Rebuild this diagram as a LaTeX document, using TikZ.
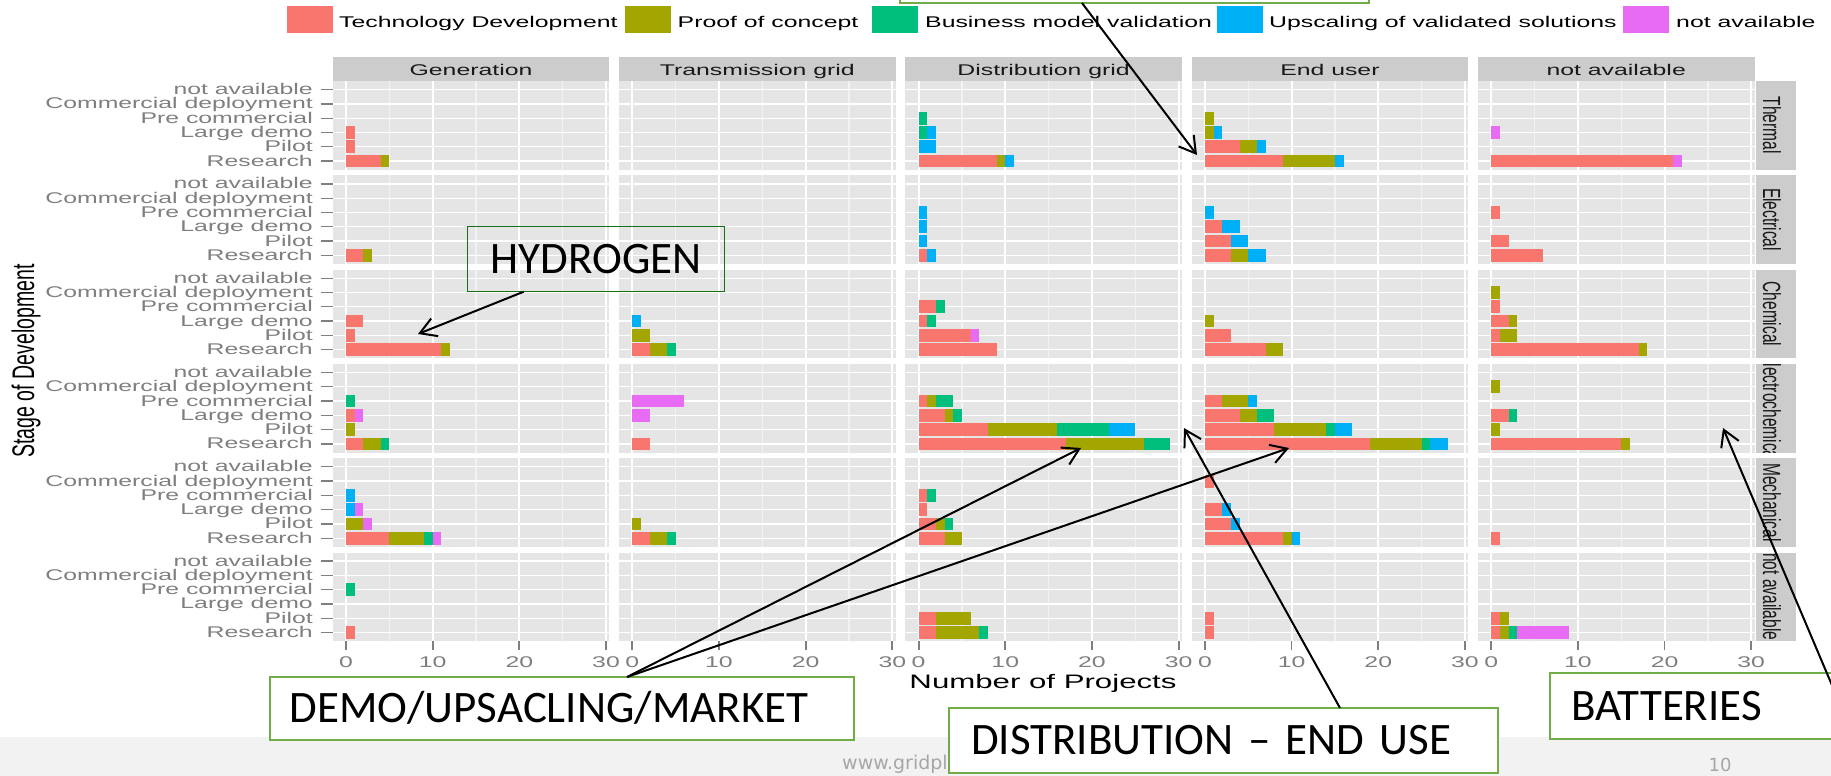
\documentclass[tikz,border=0pt]{standalone}
\usepackage{fontspec}
\usepackage{graphicx}
\setmainfont{Liberation Sans}
\newfontfamily\callfont{Carlito}
\newfontfamily\footfont{DejaVu Sans}
\usetikzlibrary{arrows.meta}
\definecolor{cTD}{HTML}{F8766D}
\definecolor{cPC}{HTML}{A3A500}
\definecolor{cBM}{HTML}{00BF7D}
\definecolor{cUP}{HTML}{00B0F6}
\definecolor{cNA}{HTML}{E76BF3}
\definecolor{panelbg}{HTML}{E5E5E5}
\definecolor{minorgrid}{HTML}{F2F2F2}
\definecolor{stripbg}{HTML}{CCCCCC}
\definecolor{axisgrey}{HTML}{7F7F7F}
\definecolor{lightgreen}{HTML}{70AD47}
\definecolor{darkgreen}{HTML}{1A6E1A}
\definecolor{footband}{HTML}{F2F2F2}
\definecolor{foottext}{HTML}{A6A6A6}
\newcommand\chx[1]{\scalebox{1.6}[1]{#1}}
\newcommand\chy[1]{\scalebox{1}[1.6]{#1}}
\newcommand\stackbar[8]{%
  \pgfmathsetmacro\sbx{332.7+286.3*#1+13.3}%
  \pgfmathsetmacro\sby{81+94.3*#2+88.6-(#3-0.4)*14.29}%
  \def\scum{0}%
  \barseg{#4}{cTD}\barseg{#5}{cPC}\barseg{#6}{cBM}\barseg{#7}{cUP}\barseg{#8}{cNA}}
\newcommand\barseg[2]{%
  \ifnum#1>0\relax
    \pgfmathsetmacro\snew{\scum+#1}%
    \fill[#2] (\sbx+\scum*8.667,\sby-6.43) rectangle (\sbx+\snew*8.667,\sby+6.43);%
    \let\scum\snew
  \fi}
\tikzset{
  chartfont/.style={font=\fontsize{15.5}{18}\selectfont},
  titlefont/.style={font=\fontsize{19.5}{22}\selectfont},
  callout/.style={draw=lightgreen, line width=2.5pt, fill=white, outer sep=0pt,
    font=\callfont\fontsize{45}{50}\selectfont, text height=28.4pt, text depth=0pt},
  callarrow/.style={draw=black, line width=2pt, -{Straight Barb[length=16pt,width=19pt]}},
}
\begin{document}
\begin{tikzpicture}[x=1pt,y=-1pt]
\useasboundingbox (0,0) rectangle (1831,776);
\clip (0,0) rectangle (1831,776);
\fill[white] (0,0) rectangle (1831,776);
\fill[footband] (0,737) rectangle (1831,776);

% legend
\foreach \kx/\tx/\col/\lab [count=\i] in {287/339/cTD/Technology Development,625/677.5/cPC/Proof of concept,872.3/925/cBM/Business model validation,1216.7/1269/cUP/Upscaling of validated solutions,1623.3/1676/cNA/not available}{
  \fill[\col] (\kx,6) rectangle ++(46,27);
  \node[chartfont, anchor=base west, inner sep=0pt, name=leg\i] at (\tx,27.3) {\chx{\lab}};
}

% column strips
\foreach \cn [count=\c from 0] in {Generation,Transmission grid,Distribution grid,End user,not available}{
  \pgfmathsetmacro\cl{332.7+286.3*\c}
  \fill[stripbg] (\cl,57.3) rectangle ++(276.6,23.7);
  \node[chartfont, text=black!90, anchor=base, inner sep=0pt, name=colstrip\c] at (\cl+138.3,76) {\chx{\cn}};
}

% row strips
\foreach \rn [count=\r from 0] in {Thermal,Electrical,Chemical,Electrochemical,Mechanical,not available}{
  \pgfmathsetmacro\rt{81+94.3*\r}
  \fill[stripbg] (1756,\rt) rectangle ++(40,88.6);
  \begin{scope}
    \clip (1756,\rt) rectangle ++(40,88.6);
    \node[chartfont, text=black!90, rotate=-90, anchor=base, inner sep=0pt, name=rowstrip\r] at (1763,\rt+44.3) {\chy{\rn}};
  \end{scope}
}

% panels and grids
\foreach \c in {0,...,4}{
  \foreach \r in {0,...,5}{
    \pgfmathsetmacro\pleft{332.7+286.3*\c}
    \pgfmathsetmacro\ptop{81+94.3*\r}
    \fill[panelbg] (\pleft,\ptop) rectangle ++(276.6,88.6);
    \foreach \v in {5,15,25}
      \draw[minorgrid, line width=1.4pt] (\pleft+13.3+\v*8.667,\ptop) -- ++(0,88.6);
    \foreach \j in {1,...,6}
      \draw[white, line width=1.3pt] (\pleft,\ptop+88.6-\j*14.29+0.4*14.29) -- ++(276.6,0);
    \foreach \v in {0,10,20,30}
      \draw[white, line width=2pt] (\pleft+13.3+\v*8.667,\ptop) -- ++(0,88.6);
  }
}

% bars: col, row, category (1 Research ... 6 not available), TD, PoC, BMV, Up, NA
\stackbar{0}{0}{3}{1}{0}{0}{0}{0}
\stackbar{0}{0}{2}{1}{0}{0}{0}{0}
\stackbar{0}{0}{1}{4}{1}{0}{0}{0}
\stackbar{2}{0}{4}{0}{0}{1}{0}{0}
\stackbar{2}{0}{3}{0}{0}{1}{1}{0}
\stackbar{2}{0}{2}{0}{0}{0}{2}{0}
\stackbar{2}{0}{1}{9}{1}{0}{1}{0}
\stackbar{3}{0}{4}{0}{1}{0}{0}{0}
\stackbar{3}{0}{3}{0}{1}{0}{1}{0}
\stackbar{3}{0}{2}{4}{2}{0}{1}{0}
\stackbar{3}{0}{1}{9}{6}{0}{1}{0}
\stackbar{4}{0}{3}{0}{0}{0}{0}{1}
\stackbar{4}{0}{1}{21}{0}{0}{0}{1}
\stackbar{0}{1}{1}{2}{1}{0}{0}{0}
\stackbar{2}{1}{4}{0}{0}{0}{1}{0}
\stackbar{2}{1}{3}{0}{0}{0}{1}{0}
\stackbar{2}{1}{2}{0}{0}{0}{1}{0}
\stackbar{2}{1}{1}{1}{0}{0}{1}{0}
\stackbar{3}{1}{4}{0}{0}{0}{1}{0}
\stackbar{3}{1}{3}{2}{0}{0}{2}{0}
\stackbar{3}{1}{2}{3}{0}{0}{2}{0}
\stackbar{3}{1}{1}{3}{2}{0}{2}{0}
\stackbar{4}{1}{4}{1}{0}{0}{0}{0}
\stackbar{4}{1}{2}{2}{0}{0}{0}{0}
\stackbar{4}{1}{1}{6}{0}{0}{0}{0}
\stackbar{0}{2}{3}{2}{0}{0}{0}{0}
\stackbar{0}{2}{2}{1}{0}{0}{0}{0}
\stackbar{0}{2}{1}{11}{1}{0}{0}{0}
\stackbar{1}{2}{3}{0}{0}{0}{1}{0}
\stackbar{1}{2}{2}{0}{2}{0}{0}{0}
\stackbar{1}{2}{1}{2}{2}{1}{0}{0}
\stackbar{2}{2}{4}{2}{0}{1}{0}{0}
\stackbar{2}{2}{3}{1}{0}{1}{0}{0}
\stackbar{2}{2}{2}{6}{0}{0}{0}{1}
\stackbar{2}{2}{1}{9}{0}{0}{0}{0}
\stackbar{3}{2}{3}{0}{1}{0}{0}{0}
\stackbar{3}{2}{2}{3}{0}{0}{0}{0}
\stackbar{3}{2}{1}{7}{2}{0}{0}{0}
\stackbar{4}{2}{5}{0}{1}{0}{0}{0}
\stackbar{4}{2}{4}{1}{0}{0}{0}{0}
\stackbar{4}{2}{3}{2}{1}{0}{0}{0}
\stackbar{4}{2}{2}{1}{2}{0}{0}{0}
\stackbar{4}{2}{1}{17}{1}{0}{0}{0}
\stackbar{0}{3}{4}{0}{0}{1}{0}{0}
\stackbar{0}{3}{3}{1}{0}{0}{0}{1}
\stackbar{0}{3}{2}{0}{1}{0}{0}{0}
\stackbar{0}{3}{1}{2}{2}{1}{0}{0}
\stackbar{1}{3}{4}{0}{0}{0}{0}{6}
\stackbar{1}{3}{3}{0}{0}{0}{0}{2}
\stackbar{1}{3}{1}{2}{0}{0}{0}{0}
\stackbar{2}{3}{4}{1}{1}{2}{0}{0}
\stackbar{2}{3}{3}{3}{1}{1}{0}{0}
\stackbar{2}{3}{2}{8}{8}{6}{3}{0}
\stackbar{2}{3}{1}{17}{9}{3}{0}{0}
\stackbar{3}{3}{4}{2}{3}{0}{1}{0}
\stackbar{3}{3}{3}{4}{2}{2}{0}{0}
\stackbar{3}{3}{2}{8}{6}{1}{2}{0}
\stackbar{3}{3}{1}{19}{6}{1}{2}{0}
\stackbar{4}{3}{5}{0}{1}{0}{0}{0}
\stackbar{4}{3}{3}{2}{0}{1}{0}{0}
\stackbar{4}{3}{2}{0}{1}{0}{0}{0}
\stackbar{4}{3}{1}{15}{1}{0}{0}{0}
\stackbar{0}{4}{4}{0}{0}{0}{1}{0}
\stackbar{0}{4}{3}{0}{0}{0}{1}{1}
\stackbar{0}{4}{2}{0}{2}{0}{0}{1}
\stackbar{0}{4}{1}{5}{4}{1}{0}{1}
\stackbar{1}{4}{2}{0}{1}{0}{0}{0}
\stackbar{1}{4}{1}{2}{2}{1}{0}{0}
\stackbar{2}{4}{4}{1}{0}{1}{0}{0}
\stackbar{2}{4}{3}{1}{0}{0}{0}{0}
\stackbar{2}{4}{2}{2}{1}{1}{0}{0}
\stackbar{2}{4}{1}{3}{2}{0}{0}{0}
\stackbar{3}{4}{5}{1}{0}{0}{0}{0}
\stackbar{3}{4}{3}{2}{0}{0}{1}{0}
\stackbar{3}{4}{2}{3}{0}{0}{1}{0}
\stackbar{3}{4}{1}{9}{1}{0}{1}{0}
\stackbar{4}{4}{1}{1}{0}{0}{0}{0}
\stackbar{0}{5}{4}{0}{0}{1}{0}{0}
\stackbar{0}{5}{1}{1}{0}{0}{0}{0}
\stackbar{2}{5}{2}{2}{4}{0}{0}{0}
\stackbar{2}{5}{1}{2}{5}{1}{0}{0}
\stackbar{3}{5}{2}{1}{0}{0}{0}{0}
\stackbar{3}{5}{1}{1}{0}{0}{0}{0}
\stackbar{4}{5}{2}{1}{1}{0}{0}{0}
\stackbar{4}{5}{1}{1}{1}{1}{0}{6}

% y axis labels and ticks
\foreach \r in {0,...,5}{
  \foreach \j/\lab in {1/Research,2/Pilot,3/Large demo,4/Pre commercial,5/Commercial deployment,6/not available}{
    \pgfmathsetmacro\yy{81+94.3*\r+88.6-(\j-0.4)*14.29}
    \draw[axisgrey, line width=1.3pt] (320.5,\yy) -- (332.7,\yy);
    \node[chartfont, text=axisgrey, anchor=base east, inner sep=0pt, name=ylab-\r-\j] at (313,\yy+5) {\chx{\lab}};
  }
}

% x axis ticks and labels
\foreach \c in {0,...,4}{
  \foreach \v in {0,10,20,30}{
    \pgfmathsetmacro\xx{332.7+286.3*\c+13.3+\v*8.667}
    \draw[axisgrey, line width=1.8pt] (\xx,641.1) -- (\xx,650);
    \node[chartfont, text=axisgrey, anchor=base, inner sep=0pt, name=xlab-\c-\v] at (\xx,667) {\chx{\v}};
  }
}

% axis titles
\node[titlefont, anchor=base, inner sep=0pt, name=xtitle] at (1043,688.3) {\chx{Number of Projects}};
\node[titlefont, rotate=90, anchor=base, inner sep=0pt, name=ytitle] at (34,361) {\chy{Stage of Development}};

% footer
\node[font=\footfont\fontsize{19}{22}\selectfont, text=foottext, anchor=base west, inner sep=0pt, name=foot] at (842,769) {www.gridpl};
\node[font=\footfont\fontsize{18}{22}\selectfont, text=foottext, anchor=base, inner sep=0pt, name=pageno] at (1720,771) {10};

% callout boxes
\node[callout, minimum width=469pt, minimum height=60pt, anchor=south west, inner sep=0pt, name=topbox] at (900,3) {};
\node[callout, draw=darkgreen, line width=1.5pt, fill=none, minimum width=256.6pt, minimum height=65pt, inner sep=0pt, anchor=north west, name=hyd] at (467.7,226.7) {HYDROGEN};
\node[callout, minimum width=584pt, minimum height=63pt, text width=545pt, align=left, inner xsep=19.5pt, inner ysep=0pt, anchor=north west, name=demo] at (270,677) {DEMO/UPSACLING/MARKET};
\node[callout, minimum width=549pt, minimum height=65pt, text width=505pt, align=left, inner xsep=21pt, inner ysep=0pt, anchor=north west, name=dist] at (949,708) {DISTRIBUTION – END USE};
\node[callout, minimum width=330pt, minimum height=66pt, text width=288pt, align=left, inner xsep=21pt, inner ysep=0pt, anchor=north west, name=bat] at (1550,673) {BATTERIES};

% arrow targets
\coordinate (tipA) at (1197,155);
\coordinate (tipH) at (418,334);
\coordinate (tipD1) at (1081,448);
\coordinate (tipD2) at (1289,448);
\coordinate (tipE) at (1184,428);
\coordinate (tipB) at (1723,428);

\draw[callarrow] ([xshift=182pt]topbox.south west) -- (tipA);
\draw[callarrow] ([xshift=56pt]hyd.south west) -- (tipH);
\draw[callarrow] ([xshift=357pt]demo.north west) -- (tipD1);
\draw[callarrow] ([xshift=357pt]demo.north west) -- (tipD2);
\draw[callarrow] ([xshift=391pt]dist.north west) -- (tipE);
\draw[callarrow] ([xshift=284pt,yshift=-17pt]bat.north west) -- (tipB);
\end{tikzpicture}
\end{document}
